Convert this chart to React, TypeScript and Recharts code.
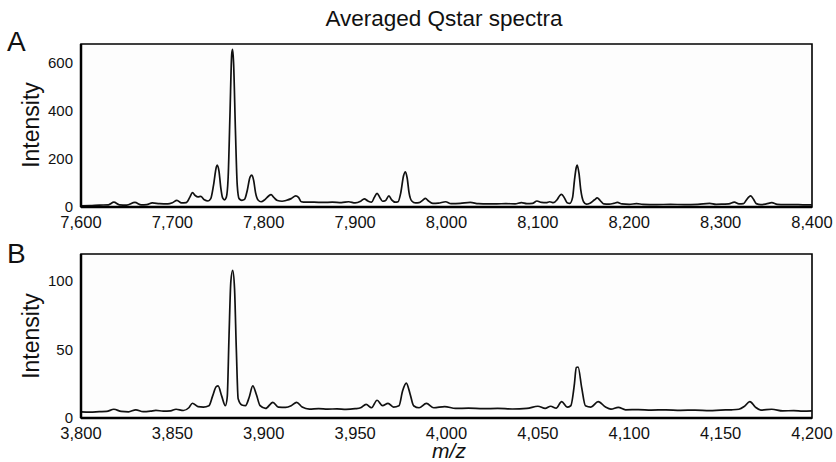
import React from 'react';
import { LineChart, Line, XAxis, YAxis, ReferenceArea } from 'recharts';

// Panel A: m/z, intensity
const spectrumA: [number, number][] = [
  [7600, 5], [7610, 6], [7620, 8], [7630, 9], [7636, 20], [7642, 9], [7650, 8], [7659, 19],
  [7666, 9], [7672, 10], [7678, 17], [7686, 14], [7695, 13], [7700, 18], [7705, 28], [7710, 17],
  [7715, 18], [7719, 40], [7722, 60], [7725, 48], [7728, 42], [7731, 44], [7735, 30], [7739, 25],
  [7742, 35], [7745, 90], [7748, 165], [7749, 175], [7751, 150], [7753, 80], [7755, 38], [7757, 30],
  [7759, 40], [7761, 120], [7763, 380], [7765, 640], [7766, 658], [7767, 600], [7769, 320], [7771, 90],
  [7773, 35], [7776, 28], [7779, 32], [7782, 70], [7785, 125], [7787, 133], [7789, 110], [7791, 60],
  [7794, 28], [7797, 22], [7801, 30], [7805, 45], [7808, 52], [7811, 40], [7815, 27], [7820, 24],
  [7825, 28], [7830, 35], [7835, 46], [7838, 40], [7841, 22], [7846, 20], [7855, 20], [7865, 19],
  [7875, 20], [7885, 18], [7893, 22], [7900, 17], [7906, 24], [7910, 34], [7914, 25], [7918, 20],
  [7921, 40], [7924, 57], [7927, 40], [7930, 24], [7933, 26], [7937, 46], [7940, 30], [7944, 20],
  [7947, 22], [7950, 60], [7953, 130], [7955, 147], [7957, 120], [7959, 60], [7962, 25], [7966, 17],
  [7970, 18], [7974, 28], [7977, 36], [7980, 26], [7985, 15], [7991, 16], [7999, 22], [8005, 14],
  [8015, 15], [8026, 19], [8035, 14], [8045, 13], [8055, 13], [8065, 14], [8075, 13], [8082, 18],
  [8088, 14], [8094, 15], [8099, 25], [8104, 19], [8109, 18], [8113, 22], [8117, 18], [8121, 30],
  [8124, 48], [8126, 53], [8129, 38], [8132, 18], [8135, 15], [8138, 40], [8140, 110], [8142, 165],
  [8143, 175], [8145, 140], [8147, 70], [8150, 22], [8153, 12], [8157, 16], [8162, 30], [8165, 38],
  [8168, 28], [8172, 13], [8178, 12], [8183, 15], [8187, 19], [8192, 13], [8200, 11], [8208, 14],
  [8215, 11], [8230, 10], [8245, 11], [8260, 10], [8275, 11], [8288, 15], [8295, 11], [8303, 12],
  [8309, 13], [8315, 20], [8320, 13], [8325, 14], [8328, 28], [8331, 42], [8333, 46], [8336, 32],
  [8339, 14], [8344, 10], [8350, 13], [8356, 18], [8362, 11], [8370, 10], [8380, 10], [8390, 9],
  [8400, 9],
];

// Panel B
const spectrumB: [number, number][] = [
  [3800, 4.5], [3805, 4.3], [3810, 4.6], [3814, 4.8], [3818, 6.4], [3822, 4.8], [3826, 4.5], [3830, 6],
  [3834, 4.6], [3838, 5], [3841, 5.6], [3845, 5], [3849, 5.2], [3852, 6.4], [3856, 5.5], [3859, 7.5],
  [3861, 10.8], [3864, 8.3], [3867, 8], [3870, 9], [3872, 16], [3874, 23], [3875, 23.5], [3877, 16],
  [3879, 9], [3880, 15], [3881, 60], [3882, 100], [3883, 108], [3884, 95], [3885, 50], [3886, 14],
  [3888, 9.5], [3890, 9], [3892, 15], [3894, 23.5], [3896, 17], [3898, 9], [3901, 7], [3905, 11.5],
  [3908, 8], [3912, 7.8], [3915, 9], [3918, 11.5], [3921, 8], [3925, 6.5], [3930, 6.8], [3935, 6.5],
  [3940, 6.7], [3945, 6.3], [3950, 6.8], [3953, 7.5], [3956, 10], [3959, 7.5], [3962, 13], [3965, 9],
  [3968, 10.7], [3971, 8], [3974, 9], [3976, 20], [3978, 25.5], [3980, 18], [3982, 9], [3985, 7.5],
  [3989, 10.7], [3993, 7.5], [3999, 8.3], [4005, 7], [4012, 7.2], [4020, 6.8], [4028, 7], [4036, 6.6],
  [4044, 7], [4050, 8.6], [4054, 7], [4057, 8.6], [4060, 7.2], [4063, 12], [4066, 8], [4068, 9],
  [4070, 25], [4071, 37], [4072, 37.3], [4074, 22], [4076, 9], [4079, 8], [4083, 12], [4087, 8],
  [4090, 6.5], [4094, 7.8], [4098, 6], [4105, 6.2], [4112, 5.8], [4120, 6], [4128, 5.6], [4136, 5.8],
  [4144, 5.4], [4150, 5.8], [4156, 6], [4160, 6.4], [4163, 8.5], [4166, 12], [4169, 8], [4172, 5.8],
  [4178, 6.4], [4184, 5.2], [4190, 5.4], [4195, 5], [4200, 5.2],
];

const ticksXA = [7600, 7700, 7800, 7900, 8000, 8100, 8200, 8300, 8400];
const ticksYA = [0, 200, 400, 600];
const ticksXB = [3800, 3850, 3900, 3950, 4000, 4050, 4100, 4150, 4200];
const ticksYB = [0, 50, 100];

const FONT = '"Liberation Sans", Arial, Helvetica, sans-serif';
const xTickStyle = { fill: '#111', fontSize: 16.5, fontFamily: FONT };
const fmt = (v: number) => v.toLocaleString('en-US');

// y labels drawn by hand so the "0" sits centred on the baseline without a tall text box
const YTick = ({ x, y, payload }: any) => (
  <text x={x} y={y} dy={5} textAnchor="end" fill="#111" fontSize={15} fontFamily={FONT}>
    {payload.value}
  </text>
);

interface PanelProps {
  points: [number, number][];
  xTicks: number[];
  yTicks: number[];
  yMax: number;
  top: number;
  height: number;
  marginTop: number;
  marginBottom: number;
}

const Panel = ({ points, xTicks, yTicks, yMax, top, height, marginTop, marginBottom }: PanelProps) => {
  const data = points.map(([mz, v]) => ({ mz, v }));
  const x0 = xTicks[0];
  const x1 = xTicks[xTicks.length - 1];
  return (
    <div style={{ position: 'absolute', left: 0, top }}>
      <LineChart width={836} height={height} data={data}
        margin={{ top: marginTop, right: 24, bottom: marginBottom, left: 21 }}>
        <XAxis type="number" dataKey="mz" domain={[x0, x1]} ticks={xTicks} tickFormatter={fmt}
          tick={xTickStyle} tickLine={false} tickMargin={3} height={25}
          axisLine={{ stroke: '#000', strokeWidth: 2.5 }} allowDataOverflow />
        <YAxis type="number" domain={[0, yMax]} ticks={yTicks} tick={<YTick />} tickLine={false}
          tickMargin={2} width={60} axisLine={{ stroke: '#000', strokeWidth: 2.5 }} allowDataOverflow />
        <ReferenceArea x1={x0} x2={x1} y1={0} y2={yMax} fill="#fdfdfd" fillOpacity={1}
          stroke="#000" strokeWidth={1.6} />
        <Line type="monotone" dataKey="v" stroke="#111" strokeWidth={1.7} dot={false}
          isAnimationActive={false} />
      </LineChart>
    </div>
  );
};

const labelStyle: React.CSSProperties = {
  position: 'absolute', fontFamily: FONT, color: '#111', whiteSpace: 'nowrap',
};

export default function App() {
  return (
    <div style={{ position: 'absolute', left: 0, top: 0, width: 836, height: 462, background: '#fff', overflow: 'hidden' }}>
      <Panel points={spectrumA} xTicks={ticksXA} yTicks={ticksYA} yMax={680}
        top={0} height={235} marginTop={44} marginBottom={3} />
      <Panel points={spectrumB} xTicks={ticksXB} yTicks={ticksYB} yMax={120}
        top={235} height={210} marginTop={19} marginBottom={2} />

      <div style={{ ...labelStyle, left: 0, width: 888, top: 6, textAlign: 'center', fontSize: 22.5 }}>
        Averaged Qstar spectra
      </div>
      <div style={{ ...labelStyle, left: 7, top: 26, fontSize: 28 }}>A</div>
      <div style={{ ...labelStyle, left: 7, top: 238, fontSize: 28 }}>B</div>
      <div style={{ ...labelStyle, left: 31, top: 125, fontSize: 23, transform: 'translate(-50%, -50%) rotate(-90deg)' }}>
        Intensity
      </div>
      <div style={{ ...labelStyle, left: 31, top: 336, fontSize: 23, transform: 'translate(-50%, -50%) rotate(-90deg)' }}>
        Intensity
      </div>
      <div style={{ ...labelStyle, left: 0, width: 898, top: 441, lineHeight: '19px', textAlign: 'center', fontSize: 21, fontStyle: 'italic' }}>
        m/z
      </div>
    </div>
  );
}
